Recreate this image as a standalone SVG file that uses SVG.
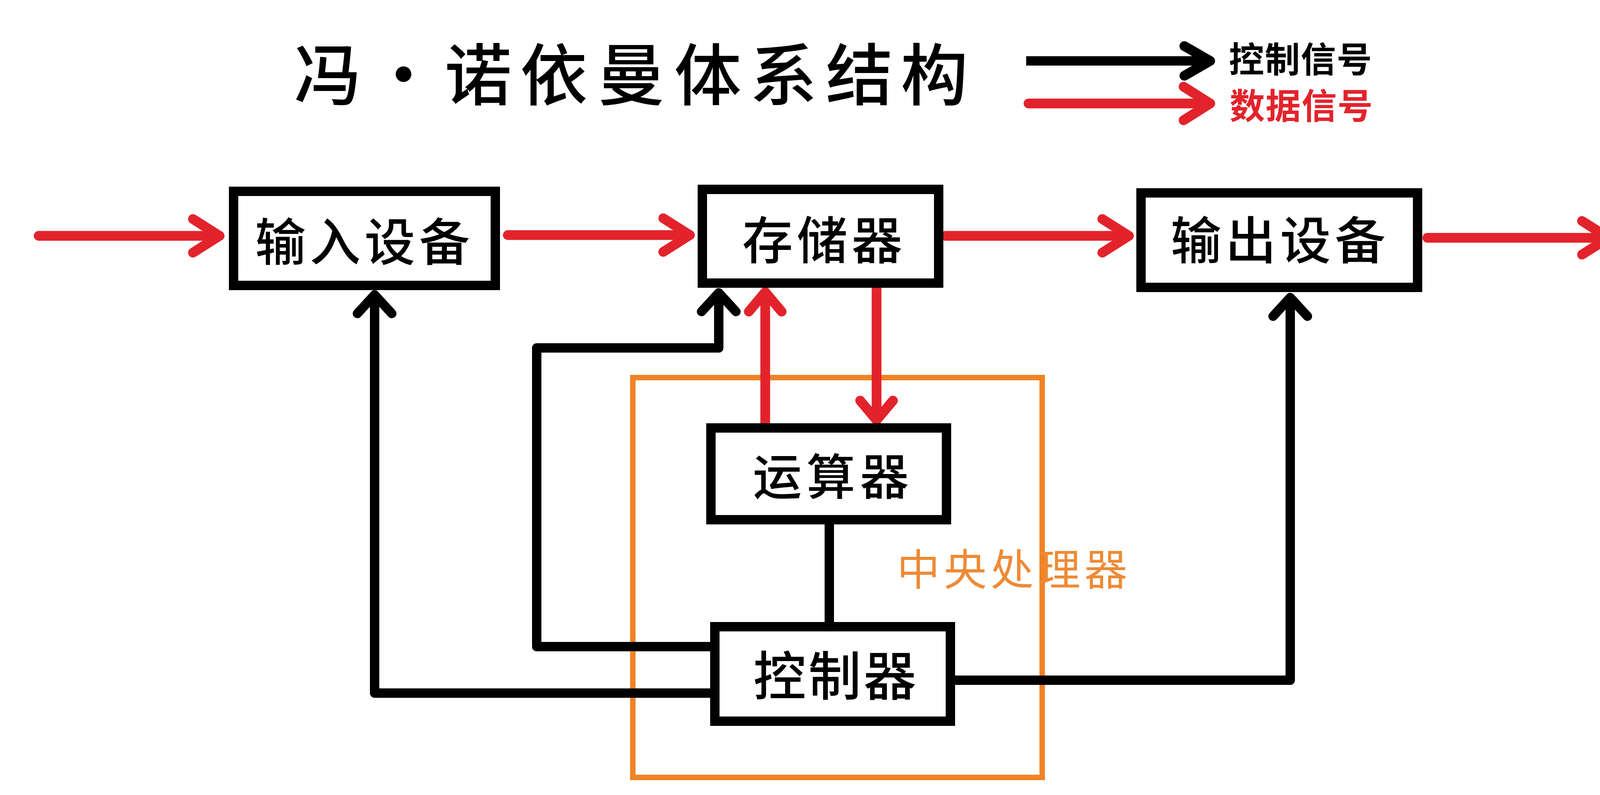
<svg xmlns="http://www.w3.org/2000/svg" width="4208" height="2036" viewBox="0 0 4208 2036">
<style>
.box{fill:#fff;stroke:#000;stroke-width:24}
.cpu{fill:none;stroke:#EF8325;stroke-width:14}
.lbl{font-family:"Noto Sans CJK SC","Noto Sans",sans-serif;fill:#000;text-anchor:middle;dominant-baseline:central;font-weight:500}
.red{fill:none;stroke:#E3232B;stroke-width:25;stroke-linecap:round;stroke-linejoin:round}
.blk{fill:none;stroke:#000;stroke-width:24;stroke-linecap:butt;stroke-linejoin:round}
</style>
<defs>
<marker id="ahRed" markerUnits="userSpaceOnUse" viewBox="-100 -60 120 120" refX="0" refY="0" markerWidth="120" markerHeight="120" orient="auto" overflow="visible">
<path d="M-68,-43 L0,0 L-68,43" fill="none" stroke="#E3232B" stroke-width="25" stroke-linecap="round" stroke-linejoin="round"/>
</marker>
<marker id="ahRedS" markerUnits="userSpaceOnUse" viewBox="-100 -60 120 120" refX="0" refY="0" markerWidth="120" markerHeight="120" orient="auto" overflow="visible">
<path d="M-50,-42 L0,0 L-50,42" fill="none" stroke="#E3232B" stroke-width="25" stroke-linecap="round" stroke-linejoin="round"/>
</marker>
<marker id="ahBlk" markerUnits="userSpaceOnUse" viewBox="-100 -60 120 120" refX="0" refY="0" markerWidth="120" markerHeight="120" orient="auto" overflow="visible">
<path d="M-48,-44 L0,0 L-48,44" fill="none" stroke="#000" stroke-width="24" stroke-linecap="round" stroke-linejoin="round"/>
</marker>
<marker id="ahBlkL" markerUnits="userSpaceOnUse" viewBox="-100 -60 120 120" refX="0" refY="0" markerWidth="120" markerHeight="120" orient="auto" overflow="visible">
<path d="M-66,-38 L0,0 L-66,38" fill="none" stroke="#000" stroke-width="25" stroke-linecap="round" stroke-linejoin="round"/>
</marker>
</defs>
<rect width="4208" height="2036" fill="#fff"/>

<g id="title">
<text class="lbl" font-size="172" y="180" x="839 1033 1224 1418 1616 1812 2006 2200 2392">冯·诺依曼体系结构</text>
</g>

<g id="legend">
<path class="blk" d="M2627,156 L3098,156" stroke-width="25" stroke-linecap="round" marker-end="url(#ahBlkL)"/>
<text class="lbl" font-size="90" font-weight="bold" letter-spacing="2" x="3330" y="146" style="font-weight:bold">控制信号</text>
<path class="red" d="M2633,265 L3098,265" marker-end="url(#ahRed)"/>
<text class="lbl" font-size="90" letter-spacing="2" x="3332" y="265" style="fill:#E3232B;font-weight:bold">数据信号</text>
</g>

<g id="cpu">
<rect class="cpu" x="1620" y="967" width="1048" height="1024"/>
<text class="lbl" font-size="110" letter-spacing="10" x="2596" y="1451" style="fill:#EE8A35;font-weight:400">中央处理器</text>
</g>

<g id="connectors">
<path class="red" d="M99,604 L562,604" marker-end="url(#ahRed)"/>
<path class="red" d="M1300,602 L1766,602" marker-end="url(#ahRed)"/>
<path class="red" d="M2420,604 L2890,604" marker-end="url(#ahRed)"/>
<path class="red" d="M3654,609 L4118,609" marker-end="url(#ahRed)"/>
<path class="red" d="M1959,1090 L1959,748" marker-end="url(#ahRedS)"/>
<path class="red" d="M2244,740 L2244,1076" marker-end="url(#ahRedS)"/>
<path class="blk" d="M1820,1775 L959,1775 L959,755" marker-end="url(#ahBlk)"/>
<path class="blk" d="M1820,1656 L1374,1656 L1374,891 L1840,891 L1840,750" marker-end="url(#ahBlk)"/>
<path class="blk" d="M2445,1742 L3303,1742 L3303,762" marker-end="url(#ahBlk)"/>
<path class="blk" d="M2123,1343 L2123,1593"/>
</g>

<g id="input">
<rect class="box" x="598" y="490" width="670" height="241"/>
<text class="lbl" font-size="130" letter-spacing="10" x="933" y="610">输入设备</text>
</g>
<g id="memory">
<rect class="box" x="1798" y="485" width="605" height="240"/>
<text class="lbl" font-size="130" letter-spacing="10" x="2110" y="606">存储器</text>
</g>
<g id="output">
<rect class="box" x="2921" y="494" width="708" height="242"/>
<text class="lbl" font-size="130" letter-spacing="10" x="3277" y="606">输出设备</text>
</g>
<g id="alu">
<rect class="box" x="1820" y="1096" width="603" height="235"/>
<text class="lbl" font-size="125" letter-spacing="12" x="2133" y="1212">运算器</text>
</g>
<g id="controller">
<rect class="box" x="1830" y="1605" width="603" height="242"/>
<text class="lbl" font-size="135" letter-spacing="6" x="2140" y="1722">控制器</text>
</g>
</svg>
